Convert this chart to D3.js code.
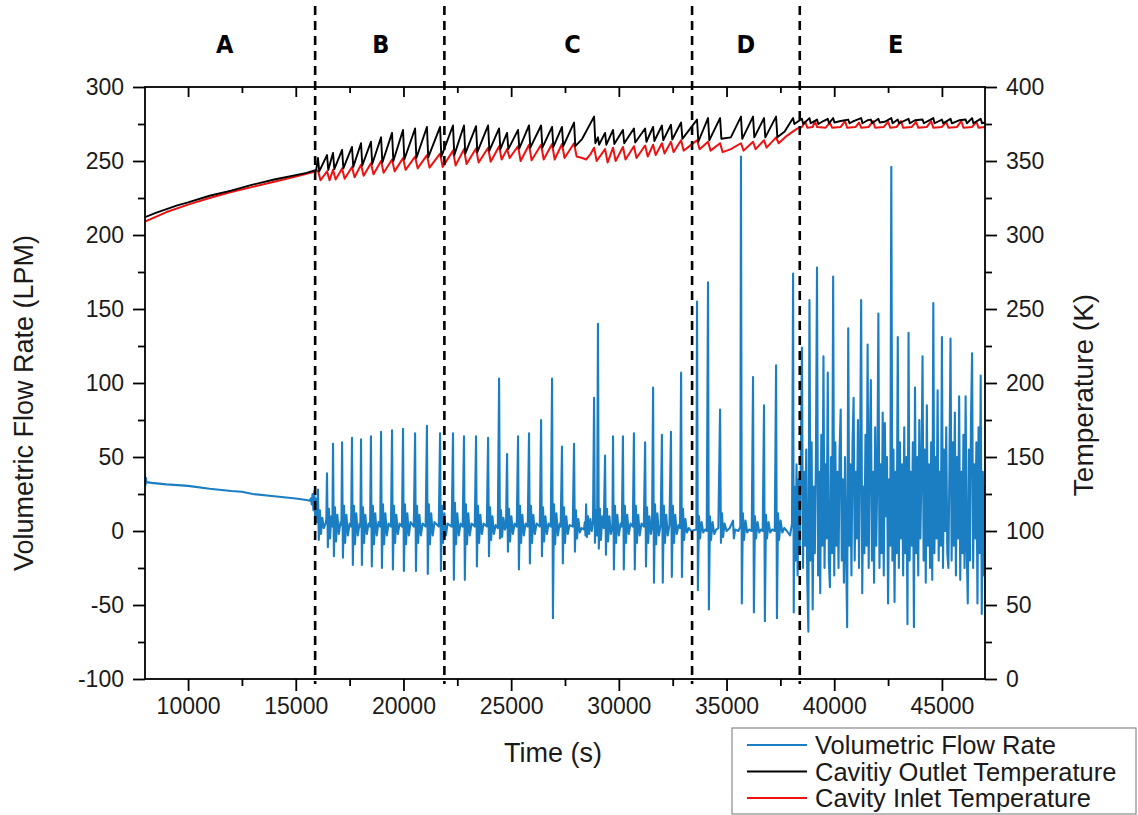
<!DOCTYPE html>
<html>
<head>
<meta charset="utf-8">
<script src="https://cdn.jsdelivr.net/npm/d3@7"></script>
<style>
  body { margin: 0; background: #fff; }
  svg text { font-family: "Liberation Sans", Arial, sans-serif; fill: #1a1a1a; }
</style>
</head>
<body>
<svg width="1138" height="815"></svg>
<script>
// ---- axis ticks ----
var timeTicks = [10000, 15000, 20000, 25000, 30000, 35000, 40000, 45000];
var timeMinor = [12500, 17500, 22500, 27500, 32500, 37500, 42500];
var flowTicks = [-100, -50, 0, 50, 100, 150, 200, 250, 300];
var flowMinor = [-75, -25, 25, 75, 125, 175, 225, 275];
var tempTicks = [0, 50, 100, 150, 200, 250, 300, 350, 400];
var tempMinor = [25, 75, 125, 175, 225, 275, 325, 375];

// ---- regions ----
var regionBounds = [15900, 21900, 33400, 38400];
var regionNames = ["A", "B", "C", "D", "E"];
var regionLabelTimes = [11700, 18950, 27850, 35900, 42850];

// ---- volumetric flow rate (LPM) ----
var flowA = [[8000, 38], [8020, 31], [8040, 36], [8070, 33], [8300, 32.5], [9000, 31.5], [10000, 30.5],
  [11000, 28.5], [12000, 27], [12500, 26.5], [13000, 25], [14000, 23.5], [15000, 22], [15500, 21],
  [15650, 20.5], [15700, 22], [15740, 18], [15780, 25], [15820, 14], [15860, 27], [15900, 10],
  [15940, 22], [15980, 6]];

var flowB = [[16030, 28], [16070, -6], [16120, 14], [16170, -2], [16230, 9], [16300, 2], [16380, 5],
  [16420, 8], [16450, 39], [16490, -11], [16540, 15], [16590, -5], [16650, 10], [16700, 3],
  [16730, 59], [16770, -17], [16820, 16], [16870, -7], [16930, 11], [17000, -2], [17080, 6],
  [17120, 4], [17150, 60], [17190, -18], [17240, 17], [17290, -8], [17350, 11], [17420, -3], [17500, 5], [17570, 3],
  [17610, 63], [17650, -23], [17700, 17], [17750, -9], [17810, 12], [17880, -3], [17960, 5],
  [18000, 3], [18030, 62], [18070, -23], [18120, 16], [18170, -8], [18230, 11], [18300, -2], [18380, 5], [18450, 3],
  [18490, 64], [18530, -24], [18580, 17], [18630, -9], [18690, 12], [18760, -3], [18840, 6], [18920, 3],
  [18960, 67], [19000, -25], [19050, 18], [19100, -9], [19160, 12], [19230, -3], [19310, 5], [19420, 3],
  [19470, 68], [19510, -26], [19560, 17], [19610, -8], [19670, 11], [19740, -2], [19820, 5], [19930, 3],
  [19980, 69], [20020, -27], [20070, 18], [20120, -9], [20180, 12], [20250, -3], [20330, 6], [20480, 3],
  [20540, 66], [20580, -27], [20630, 17], [20680, -8], [20740, 11], [20810, -3], [20890, 5], [21030, 3],
  [21090, 71], [21130, -29], [21180, 18], [21230, -9], [21290, 12], [21360, -3], [21440, 6], [21640, 3],
  [21700, 66], [21740, -27], [21790, 17], [21840, -8], [21900, 12], [21970, -3], [22050, 5], [22240, 3]];

var flowC = [[22300, 66], [22340, -33], [22390, 19], [22440, -9], [22500, 12], [22570, -3], [22650, 5], [22750, 3],
  [22810, 64], [22850, -33], [22900, 18], [22950, -9], [23010, 12], [23080, -3], [23160, 5], [23310, 3],
  [23370, 64], [23410, -24], [23460, 17], [23510, -8], [23570, 11], [23640, -2], [23720, 5], [23870, 3],
  [23930, 63], [23970, -17], [24020, 16], [24070, -6], [24130, 10], [24200, -2], [24280, 4], [24380, 2],
  [24440, 103], [24480, -5], [24530, 14], [24580, -4], [24640, 9], [24710, 1], [24760, 3],
  [24810, 52], [24850, -14], [24900, 15], [24950, -7], [25010, 10], [25080, -2], [25160, 5], [25260, 3],
  [25320, 64], [25360, -26], [25410, 17], [25460, -8], [25520, 11], [25590, -3], [25670, 5], [25770, 3],
  [25830, 66], [25870, -22], [25920, 17], [25970, -8], [26030, 11], [26100, -2], [26180, 5], [26330, 3],
  [26390, 75], [26430, -17], [26480, 16], [26530, -7], [26590, 10], [26660, -2], [26740, 5], [26840, 3],
  [26900, 103], [26940, -59], [26990, 18], [27040, -9], [27100, 12], [27170, -3], [27250, 5], [27300, 3],
  [27360, 57], [27400, -22], [27450, 16], [27500, -8], [27560, 10], [27630, -2], [27710, 4], [27860, 3],
  [27920, 59], [27960, -14], [28010, 14], [28060, -5], [28120, 8], [28190, -1], [28270, 2], [28380, 1],
  [28420, 6], [28450, -3], [28480, 18], [28520, -4], [28570, 10], [28620, -2], [28680, 8], [28740, 0], [28800, 6],
  [28850, 90], [28890, -8], [28940, 14], [28990, -3],
  [29030, 140], [29070, -12], [29120, 15], [29170, -6], [29230, 10], [29300, 2],
  [29360, 51], [29400, -16], [29450, 15], [29500, -7], [29560, 10], [29630, -2], [29700, 3],
  [29730, 64], [29770, -26], [29820, 17], [29870, -8], [29930, 11], [30000, -3], [30080, 5], [30140, 3],
  [30190, 64], [30230, -26], [30280, 17], [30330, -8], [30390, 11], [30460, -2], [30540, 5], [30650, 3],
  [30700, 66], [30740, -26], [30790, 17], [30840, -8], [30900, 11], [30970, -3], [31050, 5], [31160, 3],
  [31220, 60], [31260, -24], [31310, 16], [31360, -8], [31420, 10], [31490, -2], [31540, 3],
  [31590, 97], [31630, -35], [31680, 18], [31730, -9], [31790, 12], [31860, -3], [31940, 4],
  [32000, 65], [32040, -35], [32090, 17], [32140, -8], [32200, 11], [32270, -3], [32350, 4],
  [32420, 67], [32460, -31], [32510, 17], [32560, -8], [32620, 11], [32690, -2], [32770, 4], [32840, 2],
  [32890, 107], [32930, -31], [32980, 15], [33030, -6], [33090, 8], [33160, -1], [33250, 2], [33350, 0]];

var flowD = [[33600, 1], [33630, 155], [33670, -40], [33720, 10], [33770, -5], [33840, 6], [33920, -1], [34000, 1], [34080, 0],
  [34140, 168], [34180, -53], [34230, 10], [34280, -6], [34350, 6], [34430, -2], [34520, 1], [34620, 2],
  [34700, 82], [34740, -8], [34790, 12], [34840, -4], [34910, 5], [35000, 0], [35150, 2], [35300, 7], [35340, -5], [35400, 1], [35550, 0],
  [35640, 3], [35670, 253], [35710, -49], [35760, 12], [35810, -6], [35880, 7], [35960, -1], [36050, 1], [36170, 0],
  [36230, 104], [36270, -55], [36320, 10], [36370, -5], [36440, 6], [36520, -1], [36600, 1], [36680, 0],
  [36740, 85], [36780, -61], [36830, 11], [36880, -5], [36950, 6], [37030, -1], [37120, 1], [37240, 0],
  [37300, 112], [37340, -59], [37390, 12], [37440, -6], [37510, 7], [37590, -1], [37680, 2], [37800, 0], [37950, -3], [38040, 5],
  [38090, 174], [38120, -55]];

var flowE = [[38150, 30], [38200, -20], [38250, 45], [38300, -30], [38350, 35], [38400, -15], [38450, 50], [38500, 124],
  [38550, -25], [38600, 40], [38650, -10], [38700, 55], [38750, -35], [38800, -68], [38850, 156], [38900, -20],
  [38950, 60], [39000, -53], [39050, 30], [39100, -15], [39150, 50], [39200, 178], [39250, -30], [39300, 40],
  [39350, -42], [39400, 65], [39450, -10], [39500, 118], [39550, -25], [39600, 45], [39650, -5], [39700, 107],
  [39750, -20], [39800, -38], [39850, 50], [39900, -15], [39950, 172], [40000, -30], [40050, 60], [40100, -10],
  [40150, 40], [40200, -25], [40250, 55], [40300, 82], [40350, -20], [40400, 35], [40450, -35], [40500, 50],
  [40550, -15], [40600, -65], [40650, 137], [40700, -10], [40750, 45], [40800, -30], [40850, 60], [40900, 90],
  [40950, -20], [41000, 40], [41050, -5], [41100, 75], [41150, -25], [41200, 50], [41250, 156], [41300, -42],
  [41350, 30], [41400, -15], [41450, 65], [41500, -10], [41550, 126], [41600, -25], [41650, 55], [41700, 102],
  [41750, -20], [41800, 40], [41850, -35], [41900, 70], [41950, -10], [42000, 35], [42050, 147], [42100, -25],
  [42150, 45], [42200, -15], [42250, 80], [42300, -30], [42350, 73], [42400, 10], [42450, 50], [42500, -49],
  [42550, 35], [42600, -10], [42650, 246], [42700, -20], [42750, 55], [42800, -48], [42850, 40], [42900, -15],
  [42950, 131], [43000, -25], [43050, 60], [43100, -5], [43150, 45], [43200, -30], [43250, 70], [43300, -15],
  [43350, 50], [43400, -63], [43450, 134], [43500, -20], [43550, 40], [43600, -10], [43650, 60], [43700, -65],
  [43750, 97], [43800, -15], [43850, 50], [43900, -30], [43950, 75], [44000, -5], [44050, 40], [44100, 118],
  [44150, -20], [44200, 55], [44250, -35], [44300, 85], [44350, -10], [44400, 45], [44450, -25], [44500, 60],
  [44550, -33], [44600, 154], [44650, -15], [44700, 50], [44750, -5], [44800, 95], [44850, -20], [44900, 40],
  [44950, -10], [45000, 131], [45050, -25], [45100, 55], [45150, 0], [45200, 70], [45250, -15], [45300, -25],
  [45350, 45], [45400, 130], [45450, -20], [45500, 60], [45550, -10], [45600, 80], [45650, -30], [45700, 50],
  [45750, -5], [45800, 91], [45850, -33], [45900, 40], [45950, -15], [46000, 65], [46050, -25], [46100, 91],
  [46150, -10], [46200, -49], [46250, 55], [46300, -20], [46350, 75], [46400, 120], [46450, -25], [46500, 45],
  [46550, -5], [46600, 60], [46650, -49], [46700, 70], [46750, -15], [46800, 105], [46850, -56], [46900, 40],
  [46950, -30], [47000, 30]];

// ---- cavity outlet temperature (K) ----
var outletTemp = [[8000, 312], [8500, 315], [9000, 317.5], [9500, 320], [10000, 322], [11000, 326.5], [12000, 330],
  [12500, 332], [13000, 334], [14000, 337.5], [15000, 340.5], [15500, 342], [15950, 344],
  [16030, 352], [16090, 343], [16450, 354], [16510, 344], [16730, 355.5], [16790, 344.5], [17150, 357.5], [17210, 345],
  [17610, 359.5], [17670, 346], [18030, 362], [18090, 347], [18490, 363], [18550, 348], [18960, 366], [19020, 349],
  [19470, 369], [19530, 350], [19980, 371], [20040, 351], [20540, 372], [20600, 352], [21090, 373], [21150, 352.5],
  [21700, 373], [21760, 353],
  [22300, 374], [22360, 354], [22810, 374], [22870, 355], [23370, 373.5], [23430, 356], [23930, 374], [23990, 357],
  [24440, 372], [24500, 358], [24810, 369], [24870, 358], [25320, 371], [25380, 358.5], [25830, 374], [25890, 359],
  [26390, 374], [26450, 359], [26900, 373], [26960, 359.5], [27360, 373], [27420, 360], [27920, 376], [27980, 360],
  [28300, 365], [28850, 380], [28910, 362], [29030, 366], [29080, 361], [29360, 369], [29420, 361], [29730, 371],
  [29790, 361.5], [30190, 371], [30250, 362], [30700, 372], [30760, 362.5], [31220, 372], [31280, 363], [31590, 373],
  [31650, 363.5], [32000, 374], [32060, 364], [32420, 374.5], [32480, 364.5], [32890, 376], [32950, 365],
  [33630, 378], [33690, 363], [34140, 379], [34200, 364], [34700, 379], [34760, 365], [35200, 366], [35670, 380],
  [35730, 365], [36230, 380], [36290, 366], [36740, 379], [36800, 366], [37300, 380], [37360, 366], [37700, 370],
  [38090, 379], [38150, 375],
  [38500, 378.5], [38560, 375], [38850, 379], [38910, 375.5], [39200, 378], [39260, 375], [39500, 377], [39700, 378.5],
  [39760, 375.5], [39950, 379], [40010, 376], [40300, 377], [40650, 378], [40710, 375.5], [40900, 377], [41250, 379],
  [41310, 375.5], [41550, 377.5], [41700, 378], [41760, 375.5], [42050, 378.5], [42110, 376], [42350, 376.5],
  [42650, 379], [42710, 375.5], [42950, 378], [43010, 375.5], [43450, 378.5], [43510, 375.5], [43750, 377.5],
  [44100, 378], [44160, 375.5], [44600, 379], [44660, 375.5], [45000, 378], [45060, 375.5], [45400, 378.5],
  [45460, 375.5], [45800, 377.5], [46100, 378], [46160, 375.5], [46400, 379], [46460, 375.5], [46800, 378.5],
  [46860, 375.5], [47000, 376]];

// ---- cavity inlet temperature (K) ----
var inletTemp = [[8000, 309], [9000, 315.5], [10000, 320.5], [11000, 325], [12000, 329], [13000, 332.5], [14000, 336],
  [15000, 339.5], [15950, 343],
  [16030, 343.5], [16150, 337], [16450, 343], [16570, 337], [16730, 344], [16850, 337.5], [17150, 345], [17270, 338],
  [17610, 346], [17730, 339], [18030, 347.5], [18150, 340], [18490, 348.5], [18610, 341], [18960, 350], [19080, 342],
  [19470, 351], [19590, 343], [19980, 352], [20100, 344], [20540, 353], [20660, 345], [21090, 354], [21210, 345.5],
  [21700, 355], [21820, 346],
  [22300, 357], [22420, 347], [22810, 358], [22930, 348], [23370, 358.5], [23490, 349], [23930, 359], [24050, 349.5],
  [24440, 360], [24560, 351], [24810, 358], [24930, 352], [25320, 360], [25440, 350], [25830, 361], [25950, 350.5],
  [26390, 361], [26510, 351], [26900, 361.5], [27020, 351], [27360, 361.5], [27480, 352], [27920, 362], [28040, 353],
  [28300, 352], [28480, 351], [28700, 355], [28850, 359], [28970, 350], [29360, 358], [29480, 349], [29730, 359],
  [29850, 350], [30190, 359.5], [30310, 351], [30700, 360], [30820, 352], [31220, 360.5], [31340, 353], [31590, 361],
  [31710, 354], [32000, 362], [32120, 355], [32420, 363], [32540, 356], [32890, 364], [33010, 357],
  [33630, 364], [33750, 358], [34140, 363], [34260, 357], [34700, 362], [34820, 356], [35200, 358], [35670, 362],
  [35790, 357], [36230, 363], [36350, 358], [36740, 364], [36860, 359], [37300, 366], [37420, 362], [37800, 367],
  [38090, 370], [38300, 372],
  [38500, 373], [38650, 376.5], [38750, 372.5], [39000, 373], [39100, 377], [39200, 373], [39600, 372.5], [39800, 376],
  [39900, 372.5], [40300, 373], [40500, 377], [40600, 372.5], [41000, 373], [41150, 376], [41250, 372.5], [41600, 373],
  [41800, 377], [41900, 372.5], [42300, 373], [42500, 376.5], [42600, 372.5], [42900, 373], [43100, 377], [43200, 372.5],
  [43600, 373], [43800, 376.5], [43900, 372.5], [44300, 373], [44500, 377], [44600, 372.5], [45000, 373], [45200, 376.5],
  [45300, 372.5], [45700, 373], [45900, 377], [46000, 372.5], [46400, 373], [46600, 376.5], [46700, 372.5], [47000, 373]];

var legendItems = [
  { name: "Volumetric Flow Rate", color: "#1b7ec2" },
  { name: "Cavitiy Outlet Temperature", color: "#000000" },
  { name: "Cavity Inlet Temperature", color: "#ee1111" }
];

var margins = { top: 87, bottom: 136, left: 145, right: 153 };
var svg = d3.select("svg");
var svgWidth = +svg.attr("width");
var svgHeight = +svg.attr("height");
var x0 = margins.left, x1 = svgWidth - margins.right;
var y0 = margins.top, y1 = svgHeight - margins.bottom;

svg.append("rect").attr("width", svgWidth).attr("height", svgHeight).attr("fill", "#fff");

var xScale = d3.scaleLinear([8000, 47000], [x0, x1]);
var flowScale = d3.scaleLinear([-100, 300], [y1, y0]);
var tempScale = d3.scaleLinear([0, 400], [y1, y0]);

svg.append("clipPath").attr("id", "plot")
  .append("rect").attr("x", x0).attr("y", y0).attr("width", x1 - x0).attr("height", y1 - y0);

var plot = svg.append("g").attr("clip-path", "url(#plot)");

var flowLine = d3.line().x(function (d) { return xScale(d[0]); }).y(function (d) { return flowScale(d[1]); });
var tempLine = d3.line().x(function (d) { return xScale(d[0]); }).y(function (d) { return tempScale(d[1]); });

var flowRate = [].concat(flowA, flowB, flowC, flowD, flowE);

plot.append("path").datum(flowRate).attr("d", flowLine)
  .attr("fill", "none").attr("stroke", legendItems[0].color).attr("stroke-width", 2.1).attr("stroke-linejoin", "round");
plot.append("path").datum(inletTemp).attr("d", tempLine)
  .attr("fill", "none").attr("stroke", legendItems[2].color).attr("stroke-width", 2).attr("stroke-linejoin", "round");
plot.append("path").datum(outletTemp).attr("d", tempLine)
  .attr("fill", "none").attr("stroke", legendItems[1].color).attr("stroke-width", 1.9).attr("stroke-linejoin", "round");

// region separators
svg.append("g").selectAll("line").data(regionBounds).enter().append("line")
  .attr("x1", function (d) { return xScale(d); }).attr("x2", function (d) { return xScale(d); })
  .attr("y1", 6).attr("y2", y1 + 5)
  .attr("stroke", "#000").attr("stroke-width", 2.6).attr("stroke-dasharray", "9,6");

svg.append("g").selectAll("text").data(regionNames).enter().append("text")
  .attr("x", function (d, i) { return xScale(regionLabelTimes[i]); })
  .attr("y", 53)
  .attr("text-anchor", "middle")
  .style("font-family", "'Liberation Sans Narrow', 'DejaVu Sans Condensed', sans-serif")
  .style("font-weight", "bold").style("font-size", "25px").style("fill", "#000")
  .text(function (d) { return d; });

// axes
function styleAxis(g, fontSize) {
  g.select(".domain").remove();
  g.selectAll(".tick line").attr("stroke", "#000").attr("stroke-width", 1.8);
  g.selectAll("text").style("font-size", fontSize + "px").style("fill", "#1a1a1a");
}
var fmt = function (d) { return String(d); };
var tickFont = 23;

svg.append("g").attr("transform", "translate(" + x0 + ",0)")
  .call(d3.axisLeft(flowScale).tickValues(flowTicks).tickSize(12).tickPadding(9).tickFormat(fmt))
  .call(styleAxis, tickFont);
svg.append("g").attr("transform", "translate(" + x0 + ",0)")
  .call(d3.axisLeft(flowScale).tickValues(flowMinor).tickSize(7).tickFormat(""))
  .call(styleAxis, tickFont);

svg.append("g").attr("transform", "translate(" + x1 + ",0)")
  .call(d3.axisRight(tempScale).tickValues(tempTicks).tickSize(12).tickPadding(9).tickFormat(fmt))
  .call(styleAxis, tickFont);
svg.append("g").attr("transform", "translate(" + x1 + ",0)")
  .call(d3.axisRight(tempScale).tickValues(tempMinor).tickSize(7).tickFormat(""))
  .call(styleAxis, tickFont);

svg.append("g").attr("transform", "translate(0," + y1 + ")")
  .call(d3.axisBottom(xScale).tickValues(timeTicks).tickSize(12).tickPadding(7).tickFormat(fmt))
  .call(styleAxis, tickFont);
svg.append("g").attr("transform", "translate(0," + y1 + ")")
  .call(d3.axisBottom(xScale).tickValues(timeMinor).tickSize(7).tickFormat(""))
  .call(styleAxis, tickFont);

// top: inward ticks, no labels
svg.append("g").attr("transform", "translate(0," + y0 + ")")
  .call(d3.axisBottom(xScale).tickValues(timeTicks).tickSize(10).tickFormat(""))
  .call(styleAxis, tickFont);
svg.append("g").attr("transform", "translate(0," + y0 + ")")
  .call(d3.axisBottom(xScale).tickValues(timeMinor).tickSize(6).tickFormat(""))
  .call(styleAxis, tickFont);

// frame
svg.append("rect").attr("x", x0).attr("y", y0).attr("width", x1 - x0).attr("height", y1 - y0)
  .attr("fill", "none").attr("stroke", "#000").attr("stroke-width", 1.8);

// axis titles
svg.append("text").attr("transform", "translate(33,403) rotate(-90)")
  .attr("text-anchor", "middle").style("font-size", "27px").text("Volumetric Flow Rate (LPM)");
svg.append("text").attr("transform", "translate(1093,395) rotate(-90)")
  .attr("text-anchor", "middle").style("font-size", "28px").text("Temperature (K)");
svg.append("text").attr("x", 553).attr("y", 762)
  .attr("text-anchor", "middle").style("font-size", "27px").text("Time (s)");

// legend
var legend = svg.append("g").attr("transform", "translate(732,728)");
legend.append("rect").attr("width", 404).attr("height", 86)
  .attr("fill", "#fff").attr("stroke", "#8a8a8a").attr("stroke-width", 1.2);
var rows = legend.selectAll("g").data(legendItems).enter().append("g")
  .attr("transform", function (d, i) { return "translate(0," + (17 + i * 26.5) + ")"; });
rows.append("line").attr("x1", 15).attr("x2", 75)
  .attr("stroke", function (d) { return d.color; }).attr("stroke-width", 1.8);
rows.append("text").attr("x", 83).attr("dy", "0.36em")
  .style("font-size", "25.5px").text(function (d) { return d.name; });
</script>
</body>
</html>
